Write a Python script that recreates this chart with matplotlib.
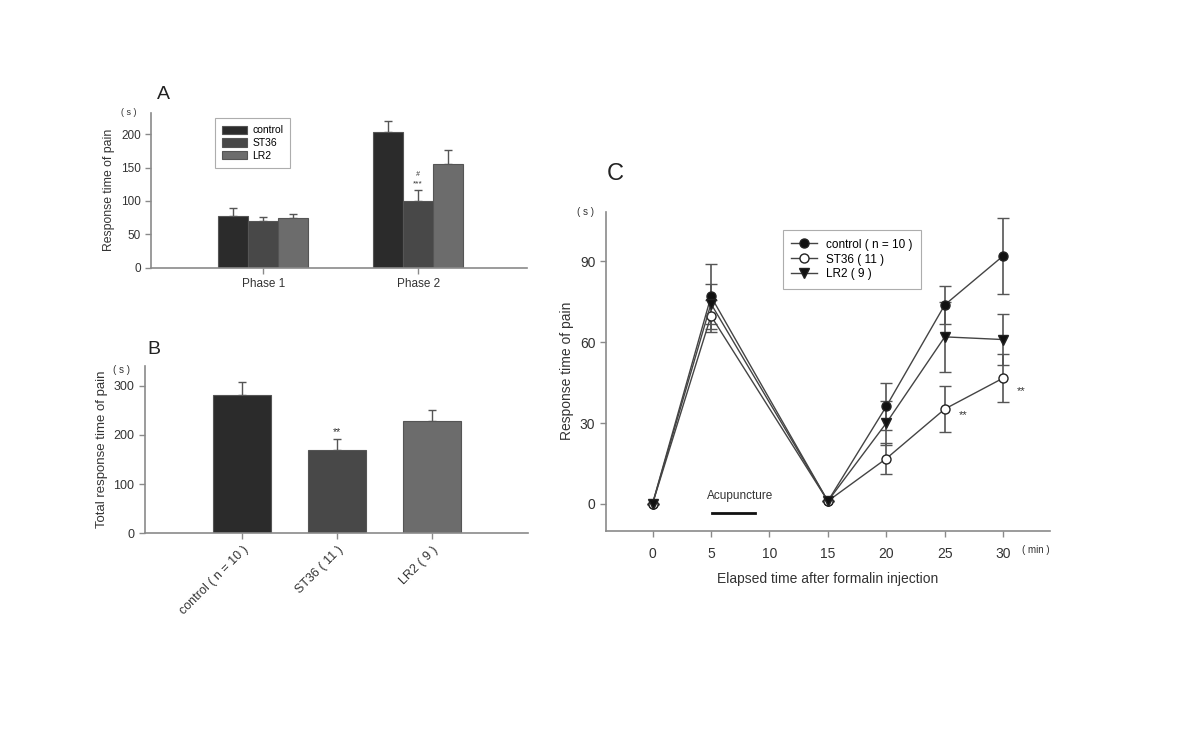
import matplotlib
matplotlib.use("Agg")
import matplotlib.pyplot as plt
from matplotlib.lines import Line2D
import numpy as np

plt.rcParams["font.family"] = ["Liberation Sans", "DejaVu Sans"]

TXT = "#333333"
SPINE = "#8a8a8a"
BAR_COLORS = ["#2b2b2b", "#484848", "#6c6c6c"]
BAR_EDGE = "#555555"

# panel A: response time per phase
groups = ["control", "ST36", "LR2"]
phases = ["Phase 1", "Phase 2"]
phase_means = {"control": [77, 203], "ST36": [70, 100], "LR2": [75, 155]}
phase_errs = {"control": [12, 17], "ST36": [6, 16], "LR2": [6, 22]}

# panel B: total response time
total_labels = ["control ( n = 10 )", "ST36 ( 11 )", "LR2 ( 9 )"]
total_means = [281, 169, 229]
total_errs = [27, 23, 22]

# panel C: time course
times = [0, 5, 15, 20, 25, 30]
ctrl_vals = [0, 77, 1, 36.2, 73.9, 92.1]
ctrl_errs = [0, 12, 0, 8.7, 7.1, 14]
st36_vals = [0, 69.8, 1, 16.8, 35.2, 46.7]
st36_errs = [0, 6, 0, 5.6, 8.4, 9]
lr2_vals = [0, 74.3, 1, 30, 62, 61]
lr2_errs = [0, 7.4, 0, 8, 13, 9.5]


def style_axes(ax, fs):
    for s in ["top", "right"]:
        ax.spines[s].set_visible(False)
    for s in ["left", "bottom"]:
        ax.spines[s].set_color(SPINE)
        ax.spines[s].set_linewidth(1.2)
    ax.tick_params(colors=SPINE, labelcolor=TXT, labelsize=fs, length=4,
                   width=1)


fig = plt.figure(figsize=(12, 7.37), dpi=100)

# ---- A ----
axA = fig.add_axes([0.126, 0.6368, 0.3133, 0.2099])
x = np.arange(len(phases))
w = 0.194
for i, g in enumerate(groups):
    axA.bar(x + (i - 1) * w, phase_means[g], w, color=BAR_COLORS[i],
            edgecolor=BAR_EDGE, linewidth=0.8, label=g, zorder=2)
    axA.errorbar(x + (i - 1) * w, phase_means[g],
                 yerr=[np.zeros(2), phase_errs[g]], fmt="none",
                 ecolor="#555555", elinewidth=1, capsize=3, zorder=1)
axA.set_xlim(-0.723, 1.703)
axA.set_ylim(0, 232)
axA.set_yticks([0, 50, 100, 150, 200])
axA.set_xticks(x)
axA.set_xticklabels(phases)
style_axes(axA, 8.5)
axA.set_ylabel("Response time of pain", fontsize=8.8, color=TXT)
axA.text(-0.06, 1.0, "( s )", transform=axA.transAxes, fontsize=6.5,
         color=TXT, ha="center", va="center")
axA.text(1.0, 116 + 4, "***", ha="center", va="bottom", fontsize=6,
         color=TXT)
axA.text(1.0, 134, "#", ha="center", va="bottom", fontsize=5, color=TXT,
         style="italic")
axA.text(0.014, 1.065, "A", transform=axA.transAxes, fontsize=14,
         color="#222222", ha="left", va="bottom")
legA = axA.legend(loc="upper left", bbox_to_anchor=(0.155, 1.0),
                  fontsize=7.5, frameon=True, fancybox=False,
                  handlelength=2.4, handleheight=0.9, borderpad=0.7,
                  labelspacing=0.25, handletextpad=0.5)
legA.get_frame().set_edgecolor("#999999")
legA.get_frame().set_linewidth(0.8)

# ---- B ----
axB = fig.add_axes([0.1208, 0.2764, 0.3192, 0.227])
xb = np.arange(len(total_labels))
axB.bar(xb, total_means, 0.61, color=BAR_COLORS, edgecolor=BAR_EDGE,
        linewidth=0.8, zorder=2)
axB.errorbar(xb, total_means, yerr=[np.zeros(3), total_errs], fmt="none",
             ecolor="#555555", elinewidth=1, capsize=3, zorder=1)
axB.set_xlim(-1.02, 3.01)
axB.set_ylim(0, 340)
axB.set_yticks([0, 100, 200, 300])
axB.set_xticks(xb)
axB.set_xticklabels(total_labels, rotation=45, ha="right",
                    rotation_mode="anchor")
style_axes(axB, 9)
axB.set_ylabel("Total response time of pain", fontsize=9.5, color=TXT)
axB.text(-0.06, 0.975, "( s )", transform=axB.transAxes, fontsize=7,
         color=TXT, ha="center", va="center")
axB.text(1, 192 + 4, "**", ha="center", va="bottom", fontsize=7.5,
         color=TXT)
axB.text(0.005, 1.05, "B", transform=axB.transAxes, fontsize=14,
         color="#222222", ha="left", va="bottom")

# ---- C ----
axC = fig.add_axes([0.5048, 0.2799, 0.3702, 0.4329])
line_kw = dict(color="#444444", linewidth=1, markersize=6.5,
               ecolor="#555555", elinewidth=1.2, capsize=4,
               markeredgecolor="#222222")
series = [
    (ctrl_vals, ctrl_errs, "o", "#111111", "control ( n = 10 )"),
    (st36_vals, st36_errs, "o", "white", "ST36 ( 11 )"),
    (lr2_vals, lr2_errs, "v", "#111111", "LR2 ( 9 )"),
]
handles = []
for vals, errs, mk, fc, lab in series:
    axC.errorbar(times, vals, yerr=errs, marker=mk, markerfacecolor=fc,
                 **line_kw)
    handles.append(Line2D([], [], color="#444444", linewidth=1, marker=mk,
                          markersize=6.5, markerfacecolor=fc,
                          markeredgecolor="#222222", label=lab))
axC.set_xlim(-4, 34)
axC.set_ylim(-10, 108.5)
axC.set_xticks([0, 5, 10, 15, 20, 25, 30])
axC.set_yticks([0, 30, 60, 90])
style_axes(axC, 10)
axC.tick_params(axis="x", pad=8)
axC.set_xlabel("Elapsed time after formalin injection", fontsize=10,
               color=TXT, labelpad=8)
axC.set_ylabel("Response time of pain", fontsize=10, color=TXT)
axC.text(-0.045, 1.0, "( s )", transform=axC.transAxes, fontsize=7,
         color=TXT, ha="center", va="center")
axC.text(31.6, -0.06, "( min )", fontsize=7,
         transform=axC.get_xaxis_transform(), color=TXT, ha="left",
         va="center")
axC.text(4.65, 0.7, "Acupuncture", fontsize=8.5, color=TXT, ha="left",
         va="bottom")
axC.plot([5.1, 8.8], [-3.3, -3.3], color="#111111", linewidth=2)
axC.text(26.2, 33, "**", fontsize=8, color=TXT, ha="left", va="center")
axC.text(31.2, 42, "**", fontsize=8, color=TXT, ha="left", va="center")
axC.text(0.003, 1.084, "C", transform=axC.transAxes, fontsize=17,
         color="#222222", ha="left", va="bottom")
legC = axC.legend(handles=handles, loc="upper left",
                  bbox_to_anchor=(0.385, 0.96), fontsize=8.5, frameon=True,
                  fancybox=False, handlelength=2.2, borderpad=0.7,
                  labelspacing=0.25)
legC.get_frame().set_edgecolor("#999999")
legC.get_frame().set_linewidth(0.8)

fig.savefig("out.png", dpi=100, facecolor="white")
